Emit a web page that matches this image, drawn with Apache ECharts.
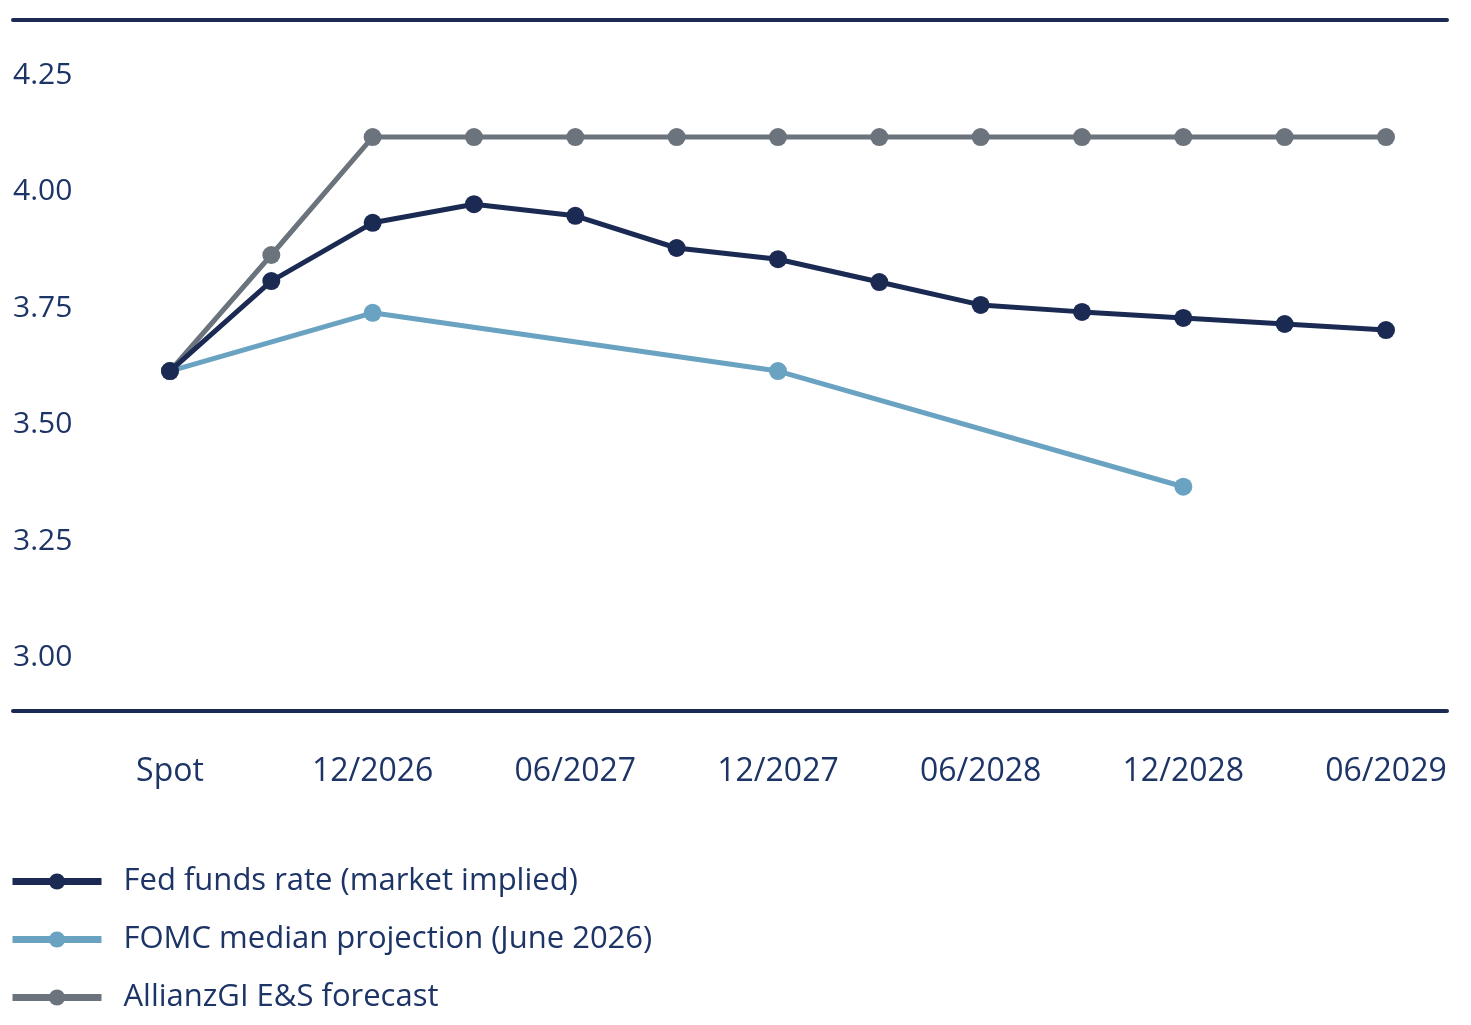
<!DOCTYPE html>
<html>
<head>
<meta charset="utf-8">
<script src="https://cdn.jsdelivr.net/npm/echarts@6/dist/echarts.min.js"></script>
<style>
  html, body { margin: 0; padding: 0; background: #fff; }
  #chart { width: 1471px; height: 1025px; }
</style>
</head>
<body>
<div id="chart"></div>
<script>
// categories (quarterly steps), every second one gets a label
const categories = ["Spot", "09/2026", "12/2026", "03/2027", "06/2027", "09/2027", "12/2027",
  "03/2028", "06/2028", "09/2028", "12/2028", "03/2029", "06/2029"];
const shownTicks = [0, 2, 4, 6, 8, 10, 12];
const yTicks = [3.00, 3.25, 3.50, 3.75, 4.00, 4.25];

const fedFunds = [3.615, 3.808, 3.933, 3.973, 3.948, 3.879, 3.855, 3.806, 3.757, 3.742, 3.729, 3.716, 3.703];
const fomcMedian = [3.615, null, 3.740, null, null, null, 3.615, null, null, null, 3.367, null, null];
const allianzForecast = [3.615, 3.864, 4.117, 4.117, 4.117, 4.117, 4.117, 4.117, 4.117, 4.117, 4.117, 4.117, 4.117];

const navy = "#1b2a52";
const lightBlue = "#6aa3c2";
const grey = "#6b747c";
const textColor = "#1d3466";
const font = "'Open Sans', sans-serif";

function toPairs(arr) {
  return arr.map((v, i) => [i, v]).filter(p => p[1] !== null);
}

const chart = echarts.init(document.getElementById("chart"));

const xMin = -1.549, xMax = 12.602;

const option = {
  animation: false,
  grid: { left: 13, right: 24, top: 20, bottom: 314 },
  xAxis: [
    {
      type: "value",
      min: xMin,
      max: xMax,
      position: "bottom",
      splitLine: { show: false },
      axisTick: { show: false },
      axisLine: { show: true, onZero: false, lineStyle: { color: navy, width: 4 } },
      axisLabel: {
        customValues: shownTicks,
        formatter: v => categories[Math.round(v)] || "",
        color: textColor,
        fontFamily: font,
        fontSize: 32,
        margin: 45
      }
    },
    {
      type: "value",
      min: xMin,
      max: xMax,
      position: "top",
      splitLine: { show: false },
      axisTick: { show: false },
      axisLabel: { show: false },
      axisLine: { show: true, onZero: false, lineStyle: { color: navy, width: 4 } }
    }
  ],
  yAxis: {
    type: "value",
    min: 2.886,
    max: 4.368,
    splitLine: { show: false },
    axisTick: { show: false },
    axisLine: { show: false },
    axisLabel: {
      inside: true,
      margin: 0,
      customValues: yTicks,
      formatter: v => v.toFixed(2),
      color: textColor,
      fontFamily: font,
      fontSize: 30
    }
  },
  legend: {
    orient: "vertical",
    left: 9,
    top: 866,
    padding: 0,
    itemWidth: 89,
    itemHeight: 20,
    itemGap: 27,
    lineStyle: { width: 7 },
    textStyle: {
      color: textColor,
      fontFamily: font,
      fontSize: 31,
      lineHeight: 31,
      padding: [0, 0, 0, 17]
    },
    data: ["Fed funds rate (market implied)", "FOMC median projection (June 2026)", "AllianzGI E&S forecast"]
  },
  series: [
    {
      name: "Fed funds rate (market implied)",
      type: "line",
      z: 4,
      data: toPairs(fedFunds),
      symbol: "circle",
      symbolSize: 18,
      lineStyle: { color: navy, width: 5 },
      itemStyle: { color: navy }
    },
    {
      name: "FOMC median projection (June 2026)",
      type: "line",
      z: 2,
      data: toPairs(fomcMedian),
      symbol: "circle",
      symbolSize: 18,
      lineStyle: { color: lightBlue, width: 5 },
      itemStyle: { color: lightBlue }
    },
    {
      name: "AllianzGI E&S forecast",
      type: "line",
      z: 3,
      data: toPairs(allianzForecast),
      symbol: "circle",
      symbolSize: 18,
      lineStyle: { color: grey, width: 5 },
      itemStyle: { color: grey }
    }
  ]
};

chart.setOption(option);
</script>
</body>
</html>
